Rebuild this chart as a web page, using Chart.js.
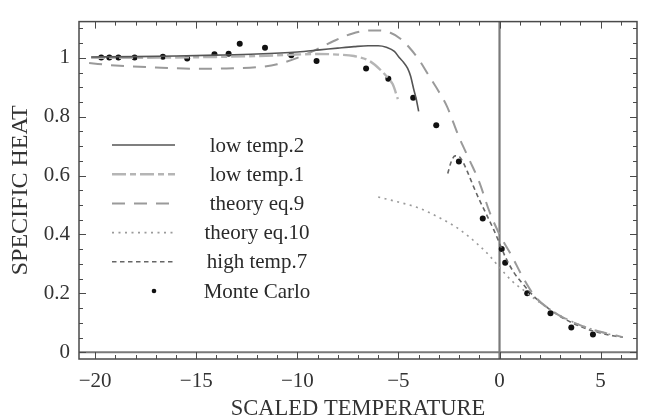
<!DOCTYPE html>
<html><head><meta charset="utf-8">
<script src="https://cdn.jsdelivr.net/npm/chart.js@4/dist/chart.umd.min.js"></script>
<style>html,body{margin:0;padding:0;background:#fff}canvas{display:block}</style>
</head><body>
<canvas id="c" width="646" height="417"></canvas>
<script>
// ---- data ----
const xTicks = [-20, -15, -10, -5, 0, 5];
const yTicks = [0, 0.2, 0.4, 0.6, 0.8, 1];
const xTitle = 'SCALED TEMPERATURE';
const yTitle = 'SPECIFIC HEAT';
const seriesNames = ['low temp.2', 'low temp.1', 'theory eq.9', 'theory eq.10', 'high temp.7', 'Monte Carlo'];

const lowTemp2X = [-20.2, -18, -16, -14, -12, -10, -8.9, -8, -7.2, -6.5, -6.0, -5.6, -5.2, -4.95, -4.75, -4.55, -4.4, -4.25, -4.12, -4.0];
const lowTemp2Y = [1.003, 1.004, 1.006, 1.009, 1.013, 1.02, 1.027, 1.033, 1.038, 1.041, 1.041, 1.036, 1.022, 1.0, 0.985, 0.965, 0.938, 0.895, 0.86, 0.818];

const lowTemp1X = [-20.2, -18, -16, -14, -12, -10.5, -9, -8, -7.2, -6.4, -5.8, -5.5, -5.28, -5.03];
const lowTemp1Y = [1.0, 1.0, 1.001, 1.003, 1.006, 1.01, 1.013, 1.011, 1.006, 0.988, 0.953, 0.93, 0.91, 0.86];

const eq9X = [-20.3, -19, -17, -15, -13.5, -12, -11, -10, -9, -8.2, -7.3, -6.6, -6.0, -5.4, -4.9, -4.4, -4.0, -3.5, -3.0, -2.6, -2.0, -1.5, -1.0, -0.5, 0, 0.6, 1.15, 1.75, 2.5, 3.5, 4.5, 5.3, 6.0];
const eq9Y = [0.982, 0.974, 0.967, 0.963, 0.964, 0.968, 0.978, 1.0, 1.03, 1.057, 1.082, 1.092, 1.093, 1.085, 1.065, 1.03, 0.995, 0.94, 0.885, 0.835, 0.73, 0.655, 0.578, 0.478, 0.40, 0.328, 0.255, 0.19, 0.145, 0.106, 0.079, 0.064, 0.053];

const eq10X = [-6.0, -5, -4, -3, -2, -1, -0.5, 0, 0.6, 1.2, 1.8, 2.5, 3.5, 4.5, 5.5, 6.1];
const eq10Y = [0.527, 0.51, 0.49, 0.458, 0.418, 0.362, 0.328, 0.288, 0.243, 0.21, 0.178, 0.145, 0.107, 0.08, 0.06, 0.052];

const highTemp7X = [-2.56, -2.4, -2.2, -2.0, -1.8, -1.6, -1.3, -1.0, -0.66, -0.3, 0, 0.3, 0.7, 1.2, 1.8, 2.5, 3.3, 4.2, 5.0, 5.6, 6.1];
const highTemp7Y = [0.607, 0.645, 0.667, 0.665, 0.645, 0.615, 0.565, 0.518, 0.47, 0.418, 0.37, 0.322, 0.272, 0.228, 0.183, 0.145, 0.11, 0.082, 0.065, 0.056, 0.051];

const monteCarloX = [-19.7, -19.3, -18.85, -18.05, -16.65, -15.45, -14.1, -13.4, -12.85, -11.6, -10.3, -9.05, -6.6, -5.5, -4.27, -3.13, -2.01, -0.83, 0.11, 0.28, 1.37, 2.52, 3.55, 4.62];
const monteCarloY = [1.001, 1.001, 1.001, 1.001, 1.004, 0.998, 1.012, 1.014, 1.048, 1.034, 1.009, 0.989, 0.964, 0.929, 0.864, 0.771, 0.648, 0.454, 0.351, 0.304, 0.2, 0.132, 0.084, 0.06];

// ---- chart ----
const FONT = "'Liberation Serif', 'Times New Roman', serif";
const pts = (xs, ys) => xs.map((x, i) => ({x: x, y: ys[i]}));
const lineDs = (label, xs, ys, color, width, dash) => ({
  label, data: pts(xs, ys), showLine: true, borderColor: color, borderWidth: width,
  borderDash: dash, pointRadius: 0, pointHoverRadius: 0, fill: false,
  cubicInterpolationMode: 'monotone'
});

const frameAndLegend = {
  id: 'frameAndLegend',
  beforeDatasetsDraw(chart) {
    const {ctx, chartArea: a, scales: {x, y}} = chart;
    ctx.save();
    ctx.strokeStyle = '#7a7a7a';
    ctx.lineWidth = 2.2;
    const x0 = x.getPixelForValue(0), y0 = y.getPixelForValue(0);
    ctx.beginPath();
    ctx.moveTo(x0, a.top); ctx.lineTo(x0, a.bottom);
    ctx.moveTo(a.left, y0); ctx.lineTo(a.right, y0);
    ctx.stroke();
    ctx.restore();
  },
  afterDraw(chart) {
    const {ctx, chartArea: a, scales: {x, y}} = chart;
    ctx.save();
    // frame
    ctx.strokeStyle = '#4a4a4a';
    ctx.lineWidth = 1.5;
    ctx.strokeRect(a.left, a.top, a.right - a.left, a.bottom - a.top);
    // inward ticks
    ctx.lineWidth = 1;
    ctx.beginPath();
    for (let v = Math.ceil(x.min); v <= x.max; v++) {
      const px = Math.round(x.getPixelForValue(v)) + 0.5;
      const L = (v % 5 === 0) ? 7 : 4;
      ctx.moveTo(px, a.bottom); ctx.lineTo(px, a.bottom - L);
      ctx.moveTo(px, a.top); ctx.lineTo(px, a.top + L);
    }
    for (let k = 0; k * 0.05 <= y.max; k++) {
      const py = Math.round(y.getPixelForValue(k * 0.05)) + 0.5;
      const L = (k % 4 === 0) ? 7 : 4;
      ctx.moveTo(a.left, py); ctx.lineTo(a.left + L, py);
      ctx.moveTo(a.right, py); ctx.lineTo(a.right - L, py);
    }
    ctx.stroke();
    // legend
    const rowY0 = 145, rowStep = 29.2, lx1 = 112, lx2 = 175, tx = 257, dotX = 154;
    ctx.font = '21px ' + FONT;
    ctx.textAlign = 'center';
    ctx.textBaseline = 'middle';
    chart.data.datasets.forEach((ds, i) => {
      const ry = rowY0 + i * rowStep;
      if (ds.showLine) {
        ctx.strokeStyle = ds.borderColor;
        ctx.lineWidth = ds.borderWidth;
        ctx.setLineDash(ds.borderDash || []);
        ctx.beginPath();
        ctx.moveTo(lx1, ry); ctx.lineTo(lx2, ry);
        ctx.stroke();
        ctx.setLineDash([]);
      } else {
        ctx.fillStyle = ds.backgroundColor;
        ctx.beginPath();
        ctx.arc(dotX, ry, 2.3, 0, Math.PI * 2);
        ctx.fill();
      }
      ctx.fillStyle = '#2a2a2a';
      ctx.fillText(ds.label, tx, ry + 1);
    });
    ctx.restore();
  }
};

new Chart(document.getElementById('c'), {
  type: 'scatter',
  data: {
    datasets: [
      lineDs(seriesNames[0], lowTemp2X, lowTemp2Y, '#555555', 1.6, []),
      lineDs(seriesNames[1], lowTemp1X, lowTemp1Y, '#b5b5b5', 2.4, [14, 4, 6, 4]),
      lineDs(seriesNames[2], eq9X, eq9Y, '#9a9a9a', 2, [13, 9]),
      lineDs(seriesNames[3], eq10X, eq10Y, '#9a9a9a', 1.6, [2, 4.5]),
      lineDs(seriesNames[4], highTemp7X, highTemp7Y, '#666666', 1.6, [4.5, 3.5]),
      {label: seriesNames[5], data: pts(monteCarloX, monteCarloY), showLine: false,
       pointRadius: 3, pointHoverRadius: 3, backgroundColor: '#111111', borderWidth: 0}
    ]
  },
  options: {
    responsive: false,
    animation: false,
    devicePixelRatio: 1,
    layout: {padding: {top: 15, right: 9, left: 0, bottom: 0}},
    plugins: {legend: {display: false}, tooltip: {enabled: false}},
    scales: {
      x: {
        type: 'linear', min: -20.8, max: 6.8,
        afterBuildTicks: s => { s.ticks = xTicks.map(v => ({value: v})); },
        afterFit: s => { s.height = 58; },
        grid: {display: false, drawTicks: false},
        border: {display: false},
        ticks: {padding: 10, autoSkip: false, maxRotation: 0, color: '#333',
                font: {family: FONT, size: 21},
                callback: v => v < 0 ? '\u2212' + Math.abs(v) : String(v)},
        title: {display: true, text: xTitle, color: '#333',
                font: {family: FONT, size: 22.5, lineHeight: 1}, padding: {top: 0, bottom: -3.5}}
      },
      y: {
        type: 'linear', min: -0.023, max: 1.123,
        afterBuildTicks: s => { s.ticks = yTicks.map(v => ({value: v})); },
        afterFit: s => { s.width = 79; },
        grid: {display: false, drawTicks: false},
        border: {display: false},
        ticks: {padding: 9, color: '#333', font: {family: FONT, size: 21},
                callback: v => String(v)},
        title: {display: true, text: yTitle, color: '#333',
                font: {family: FONT, size: 24, lineHeight: 1}, padding: {top: 8.5, bottom: 0}}
      }
    }
  },
  plugins: [frameAndLegend]
});
</script>
</body></html>
